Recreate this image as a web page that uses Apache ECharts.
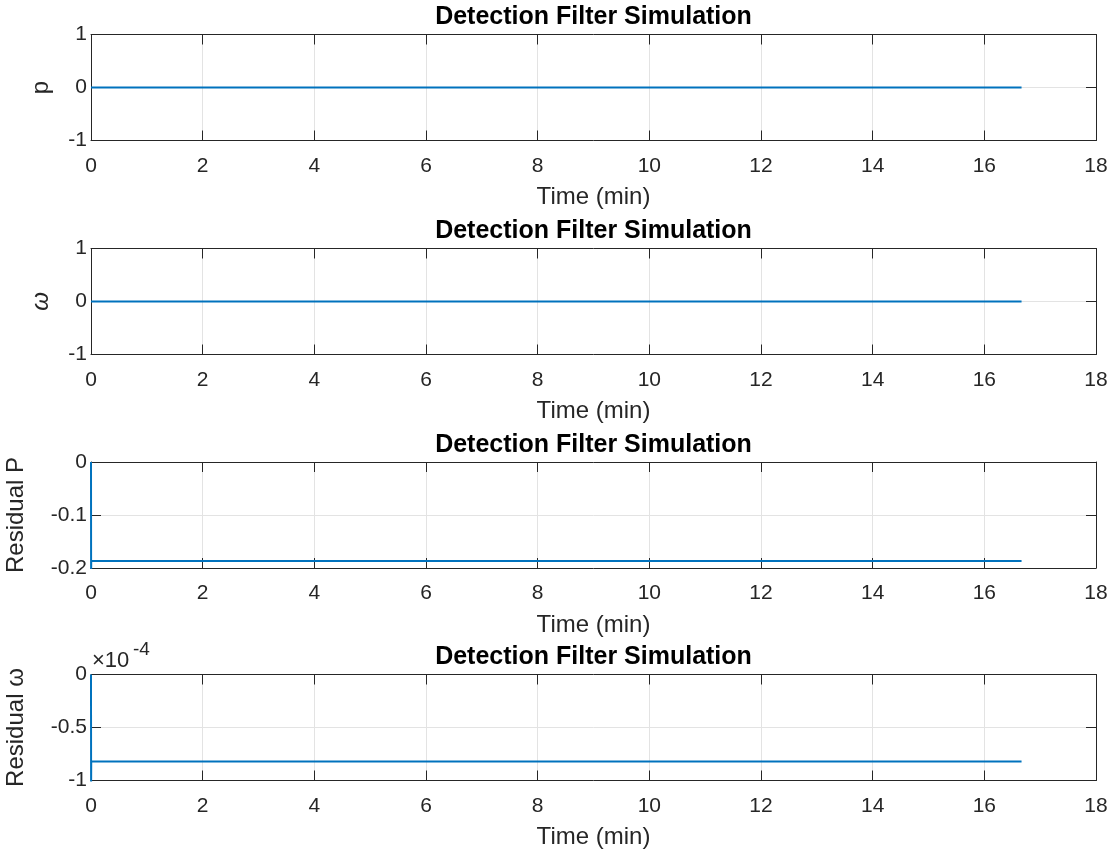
<!DOCTYPE html>
<html>
<head>
<meta charset="utf-8">
<script src="https://cdn.jsdelivr.net/npm/echarts@6/dist/echarts.min.js"></script>
<style>
html,body{margin:0;padding:0;background:#fff;}
#chart{width:1117px;height:854px;}
</style>
</head>
<body>
<div id="chart"></div>
<script>
// ---- data ----
const timeMin = [0, 0.002, 0.004, 16.6667];
const pValues = [0, 0, 0, 0];
const omegaValues = [0, 0, 0, 0];
const residualP = [0, -0.21, -0.187, -0.187];
const residualOmega = [0, -1.05e-4, -0.82e-4, -0.82e-4];
const xTicks = { min: 0, max: 18, interval: 2 };
const titleText = 'Detection Filter Simulation';
const xLabel = 'Time (min)';
const yLabels = ['p', 'ω', 'Residual P', 'Residual ω'];
const yRanges = [
  { min: -1, max: 1, interval: 1 },
  { min: -1, max: 1, interval: 1 },
  { min: -0.2, max: 0, interval: 0.1 },
  { min: -1e-4, max: 0, interval: 0.5e-4 }
];
const seriesValues = [pValues, omegaValues, residualP, residualOmega];

// ---- layout ----
const FONT = '"Liberation Sans", Arial, Helvetica, sans-serif';
const TXT = '#262626';
const AX = '#262626';
const GRIDC = '#e3e3e3';
const plotLeft = 91, plotWidth = 1005, plotH = 106;
const tops = [34.5, 248.5, 462, 674.5];
const nameGaps = [38, 38, 63, 63];

const grids = [], xAxes = [], yAxes = [], series = [];
tops.forEach((top, i) => {
  grids.push({ left: plotLeft, width: plotWidth, top: top, height: plotH,
    containLabel: false, outerBoundsMode: 'none' });
  xAxes.push({
    type: 'value', gridIndex: i, position: 'bottom',
    min: xTicks.min, max: xTicks.max, interval: xTicks.interval,
    name: xLabel, nameLocation: 'middle', nameGap: 45,
    nameTextStyle: { fontFamily: FONT, fontSize: 24, color: TXT },
    axisLine: { show: true, onZero: false, lineStyle: { color: AX, width: 1 } },
    axisTick: { show: true, inside: true, length: 10, lineStyle: { color: AX } },
    axisLabel: { show: true, margin: 15, fontFamily: FONT, fontSize: 21, color: TXT },
    splitLine: { show: true, lineStyle: { color: GRIDC, width: 1 } }
  });
  xAxes.push({
    type: 'value', gridIndex: i, position: 'top',
    min: xTicks.min, max: xTicks.max, interval: xTicks.interval,
    axisLine: { show: true, onZero: false, lineStyle: { color: AX, width: 1 } },
    axisTick: { show: true, inside: true, length: 10, lineStyle: { color: AX } },
    axisLabel: { show: false }, splitLine: { show: false }
  });
  const r = yRanges[i];
  const fmt = i === 3
    ? (v) => String(Math.round(v * 1e4 * 100) / 100)
    : (v) => String(Math.round(v * 1000) / 1000);
  yAxes.push({
    type: 'value', gridIndex: i, position: 'left',
    min: r.min, max: r.max, interval: r.interval,
    name: yLabels[i], nameLocation: 'middle', nameGap: nameGaps[i], nameRotate: 90,
    nameTextStyle: { fontFamily: FONT, fontSize: 24, color: TXT,
      fontStyle: (i === 1) ? 'italic' : 'normal' },
    axisLine: { show: true, onZero: false, lineStyle: { color: AX, width: 1 } },
    axisTick: { show: true, inside: true, length: 10, lineStyle: { color: AX } },
    axisLabel: { show: true, margin: 4, fontFamily: FONT, fontSize: 21, color: TXT, formatter: fmt },
    splitLine: { show: true, lineStyle: { color: GRIDC, width: 1 } }
  });
  yAxes.push({
    type: 'value', gridIndex: i, position: 'right',
    min: r.min, max: r.max, interval: r.interval,
    axisLine: { show: true, onZero: false, lineStyle: { color: AX, width: 1 } },
    axisTick: { show: true, inside: true, length: 10, lineStyle: { color: AX } },
    axisLabel: { show: false }, splitLine: { show: false }
  });
  series.push({
    type: 'line', xAxisIndex: 2 * i, yAxisIndex: 2 * i,
    data: timeMin.map((t, k) => [t, seriesValues[i][k]]),
    showSymbol: false, symbol: 'none', clip: true, animation: false,
    lineStyle: { color: '#0072BD', width: 2 }
  });
});

const chart = echarts.init(document.getElementById('chart'), null, { renderer: 'canvas' });
const gfx = tops.map((top) => ({
  type: 'text', x: plotLeft + plotWidth / 2, y: top - 17,
  style: { text: titleText, fontFamily: FONT, fontSize: 25, fontWeight: 'bold', fill: '#000',
    textAlign: 'center', textVerticalAlign: 'middle' }
}));
gfx.push({
  type: 'text', x: 92, y: 661,
  style: { text: '×10', fontFamily: FONT, fontSize: 22, fill: TXT, textAlign: 'left', textVerticalAlign: 'middle' }
});
gfx.push({
  type: 'text', x: 133, y: 650,
  style: { text: '-4', fontFamily: FONT, fontSize: 19, fill: TXT, textAlign: 'left', textVerticalAlign: 'middle' }
});

chart.setOption({
  animation: false,
  backgroundColor: '#ffffff',
  grid: grids,
  xAxis: xAxes,
  yAxis: yAxes,
  series: series,
  graphic: gfx
});
</script>
</body>
</html>
